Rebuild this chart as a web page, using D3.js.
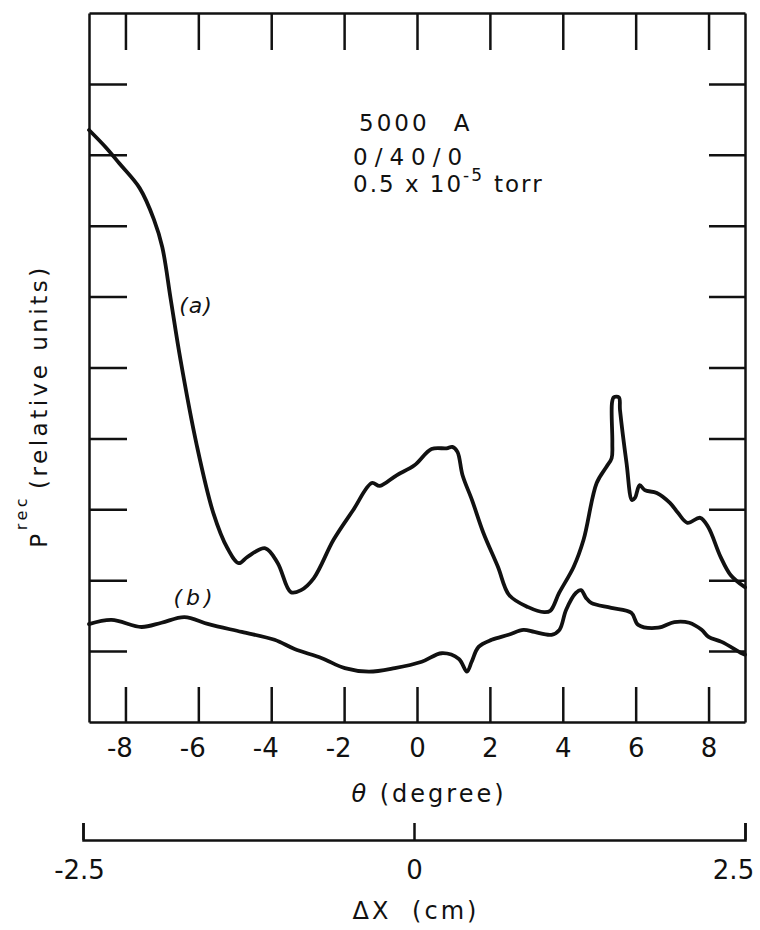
<!DOCTYPE html>
<html>
<head>
<script src="https://cdn.jsdelivr.net/npm/d3@7"></script>
  <meta charset="utf-8">
  <title>Prec vs theta</title>
<style>
  body { margin: 0; background: #fff; }
  text { font-family: "DejaVu Sans", sans-serif; fill: #111; }
</style>
</head>
<body>

<svg id="chart" width="760" height="930"></svg>

<script>

	// curve (a): theta (degree), Prec (relative units)
	var thetaA = [-9.0, -8.53, -8.17, -7.61, -7.22, -6.99, -6.76, -6.49, -6.05, -5.59,
		-5.20, -4.89, -4.65, -4.16, -3.82, -3.46, -3.18, -2.83, -2.29, -1.75,
		-1.24, -1.02, -0.56, -0.07, 0.40, 0.81, 0.97, 1.11, 1.25, 1.51,
		1.82, 2.22, 2.53, 3.05, 3.49, 3.66, 3.90, 4.30, 4.57, 4.93,
		5.20, 5.34, 5.36, 5.35, 5.40, 5.54, 5.57, 5.75, 5.90, 5.98,
		6.11, 6.25, 6.58, 6.94, 7.16, 7.42, 7.77, 7.99, 8.33, 8.61, 9.0];
	var precA = [8.35, 8.10, 7.88, 7.53, 7.09, 6.70, 5.97, 5.11, 3.92, 2.95,
		2.45, 2.24, 2.33, 2.45, 2.24, 1.83, 1.86, 2.03, 2.57, 2.99,
		3.37, 3.33, 3.48, 3.62, 3.85, 3.86, 3.88, 3.81, 3.48, 3.13,
		2.67, 2.19, 1.79, 1.62, 1.55, 1.57, 1.82, 2.19, 2.57, 3.37,
		3.60, 3.72, 3.94, 4.50, 4.58, 4.58, 4.40, 3.65, 3.13, 3.16,
		3.34, 3.27, 3.23, 3.09, 2.95, 2.81, 2.88, 2.75, 2.33, 2.07, 1.90];

	// curve (b)
	var thetaB = [-9.0, -8.38, -7.56, -7.01, -6.38, -5.72, -4.81, -3.91, -3.36, -2.61,
		-1.98, -1.32, -0.61, 0.13, 0.68, 1.15, 1.37, 1.50, 1.69, 2.05,
		2.51, 2.92, 3.22, 3.69, 3.91, 4.09, 4.36, 4.50, 4.64, 4.78,
		5.33, 5.88, 6.07, 6.62, 7.06, 7.47, 7.81, 8.00, 8.36, 8.91, 9.0];
	var precB = [1.38, 1.44, 1.34, 1.40, 1.48, 1.38, 1.27, 1.16, 1.03, 0.90,
		0.76, 0.71, 0.76, 0.85, 0.97, 0.89, 0.71, 0.85, 1.06, 1.16,
		1.23, 1.30, 1.27, 1.23, 1.30, 1.58, 1.82, 1.86, 1.75, 1.68,
		1.61, 1.54, 1.37, 1.33, 1.41, 1.40, 1.30, 1.20, 1.13, 0.97, 0.95];

	// tick values
	var thetaTicks = [-8, -6, -4, -2, 0, 2, 4, 6, 8];
	var precTicks = [1, 2, 3, 4, 5, 6, 7, 8, 9];
	var dxTicks = [-2.5, 0, 2.5];

	var svg = d3.select('#chart');
	svg.append('rect').attr('width', 760).attr('height', 930).attr('fill', '#fff');

	// (don't call these top/left etc, window.top is read only)
	var xLeft = 89, xRight = 745, yTop = 13, yBottom = 722;

	var x = d3.scaleLinear().domain([-9, 9]).range([xLeft, xRight]);
	var y = d3.scaleLinear().domain([0, 10]).range([yBottom, yTop]);
	var xdx = d3.scaleLinear().domain([-2.5, 2.5]).range([83, 745]);

	function minusFmt(d) { return d < 0 ? '-' + Math.abs(d) : d; }

	//ticks pointing inward on all four sides
	function styleAxis(g) {
		g.selectAll('path, line').attr('stroke', '#111').attr('stroke-width', 2.5);
		g.selectAll('text').attr('font-family', '"DejaVu Sans", sans-serif')
			.attr('fill', '#111').attr('font-size', 26);
	}

	svg.append('g').attr('transform', 'translate(0,' + yBottom + ')')
		.call(d3.axisBottom(x).tickValues(thetaTicks).tickSizeInner(-35).tickSizeOuter(0).tickPadding(17)
			.tickFormat(minusFmt))
		.call(styleAxis)
		.selectAll('text').attr('dx', function(d) { return d < 0 ? -6 : 0; });

	svg.append('g').attr('transform', 'translate(0,' + yTop + ')')
		.call(d3.axisTop(x).tickValues(thetaTicks).tickSizeInner(-37).tickSizeOuter(0).tickFormat(''))
		.call(styleAxis);

	svg.append('g').attr('transform', 'translate(' + xLeft + ',0)')
		.call(d3.axisLeft(y).tickValues(precTicks).tickSizeInner(-38).tickSizeOuter(0).tickFormat(''))
		.call(styleAxis);

	svg.append('g').attr('transform', 'translate(' + xRight + ',0)')
		.call(d3.axisRight(y).tickValues(precTicks).tickSizeInner(-36).tickSizeOuter(0).tickFormat(''))
		.call(styleAxis);

	//second scale underneath: delta X in cm
	svg.append('g').attr('transform', 'translate(0,840)')
		.call(d3.axisBottom(xdx).tickValues(dxTicks).tickSizeInner(-17).tickSizeOuter(-17).tickPadding(21)
			.tickFormat(minusFmt))
		.call(styleAxis)
		.selectAll('text').attr('dx', function(d) { return d > 0 ? -12 : (d < 0 ? -4 : 0); });

	// smooth a little, hand drawn trace
	var lineGen = d3.line()
		.x(function(d) { return x(d[0]); })
		.y(function(d) { return y(d[1]); })
		.curve(d3.curveCatmullRom.alpha(0.5));

	var curves = [d3.zip(thetaA, precA), d3.zip(thetaB, precB)];

	svg.selectAll('path.curve')
			.data(curves)
		.enter().append('path')
			.attr('class', 'curve')
			.attr('d', lineGen)
			.attr('fill', 'none')
			.attr('stroke', '#111')
			.attr('stroke-width', 3.8)
			.attr('stroke-linejoin', 'round')
			.attr('stroke-linecap', 'round');

	// curve labels
	svg.append('text').attr('x', 196).attr('y', 313).attr('text-anchor', 'middle')
		.attr('font-size', 22).attr('font-style', 'italic').attr('letter-spacing', 1).text('(a)');
	svg.append('text').attr('x', 195).attr('y', 605).attr('text-anchor', 'middle')
		.attr('font-size', 22).attr('font-style', 'italic').attr('letter-spacing', 4).text('(b)');

	// annotation block
	var note = svg.append('g').attr('font-size', 23).attr('letter-spacing', 3);
	note.append('text').attr('x', 359).attr('y', 131).attr('word-spacing', 14).text('5000 A');
	note.append('text').attr('x', 353).attr('y', 165).attr('letter-spacing', 7).text('0/40/0');
	var t3 = note.append('text').attr('x', 353).attr('y', 192).attr('letter-spacing', 2);
	t3.append('tspan').text('0.5 x 10');
	t3.append('tspan').attr('dy', -11).attr('font-size', 17).text('-5');
	t3.append('tspan').attr('dy', 11).attr('dx', 10).text('torr');

	// axis titles
	var xt = svg.append('text').attr('x', 429).attr('y', 802).attr('text-anchor', 'middle')
		.attr('font-size', 24).attr('letter-spacing', 3);
	xt.append('tspan').attr('font-style', 'italic').text('θ');
	xt.append('tspan').text(' (degree)');

	svg.append('text').attr('x', 416).attr('y', 919).attr('text-anchor', 'middle')
		.attr('font-size', 24).attr('letter-spacing', 3).attr('word-spacing', 10).text('ΔX (cm)');

	var yt = svg.append('text').attr('transform', 'translate(47,406) rotate(-90)')
		.attr('text-anchor', 'middle').attr('font-size', 23).attr('letter-spacing', 3.5);
	yt.append('tspan').text('P');
	yt.append('tspan').attr('dy', -20).attr('font-size', 16).text('rec');
	yt.append('tspan').attr('dy', 20).attr('dx', 6).text('(relative units)');

</script>
</body>

</html>
